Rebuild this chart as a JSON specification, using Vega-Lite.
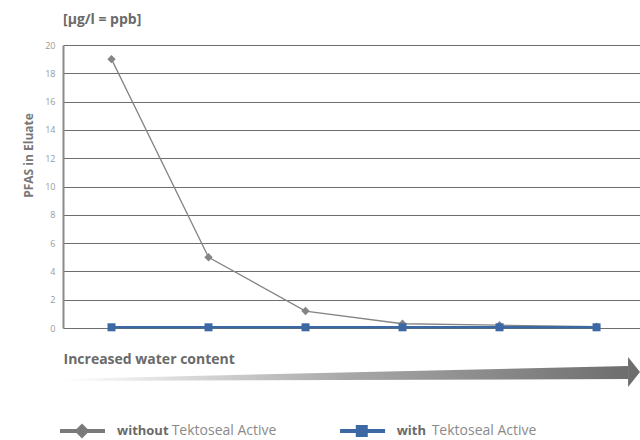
{
  "$schema": "https://vega.github.io/schema/vega-lite/v6.json",
  "width": 577,
  "height": 283,
  "autosize": {"type": "none"},
  "padding": {"left": 63, "top": 45, "right": 0, "bottom": 112},
  "background": "white",
  "config": {"view": {"stroke": null}, "font": "Open Sans", "axisY": {"tickCount": 12, "labelOverlap": false}},
  "title": {"text": "[µg/l = ppb]", "anchor": "start", "frame": "group", "fontSize": 14, "fontWeight": "bold", "color": "#6a6a6a", "baseline": "bottom", "offset": 0},
  "datasets": {
    "pfas": [
      {"step": 1, "value": 19, "series": "without"},
      {"step": 2, "value": 5, "series": "without"},
      {"step": 3, "value": 1.2, "series": "without"},
      {"step": 4, "value": 0.3, "series": "without"},
      {"step": 5, "value": 0.2, "series": "without"},
      {"step": 6, "value": 0.1, "series": "without"},
      {"step": 1, "value": 0.05, "series": "with"},
      {"step": 2, "value": 0.05, "series": "with"},
      {"step": 3, "value": 0.05, "series": "with"},
      {"step": 4, "value": 0.05, "series": "with"},
      {"step": 5, "value": 0.05, "series": "with"},
      {"step": 6, "value": 0.05, "series": "with"}
    ],
    "arrow": [
      {"step": 0.5, "value": -3.6, "value2": -3.75},
      {"step": 6.325, "value": -2.69, "value2": -3.6}
    ]
  },
  "layer": [
    {
      "data": {"name": "pfas"},
      "transform": [{"filter": "datum.series === 'without'"}],
      "mark": {"type": "line", "color": "#858585", "strokeWidth": 1.3},
      "encoding": {
        "x": {"field": "step", "type": "quantitative", "scale": {"domain": [0.5, 6.448], "nice": false, "zero": false},
          "axis": {"labels": false, "ticks": false, "domain": false, "grid": false, "title": "Increased water content", "titleAnchor": "start", "titleAlign": "left", "titleX": 0, "titleY": 31, "titleBaseline": "middle", "titleFontSize": 14, "titleFontWeight": "bold", "titleColor": "#6a6a6a"}},
        "y": {"field": "value", "type": "quantitative", "scale": {"domain": [0, 20], "nice": false},
          "axis": {"values": [0, 2, 4, 6, 8, 10, 12, 14, 16, 18, 20], "tickCount": 12, "labelOverlap": false, "ticks": false, "labelPadding": 8, "labelFontSize": 9, "labelColor": "#9a9a9a", "gridColor": "#6e6e6e", "gridWidth": 1, "domainColor": "#8a8a8a", "domainWidth": 2, "title": "PFAS in Eluate", "titleFontSize": 12, "titleFontWeight": "bold", "titleColor": "#777777", "titleX": -35, "titleY": 110, "titleAngle": -90, "titleBaseline": "middle", "titleAlign": "center"}}
      }
    },
    {
      "data": {"name": "pfas"},
      "transform": [{"filter": "datum.series === 'without'"}],
      "mark": {"type": "point", "shape": "diamond", "filled": true, "opacity": 1, "size": 70, "color": "#858585"},
      "encoding": {
        "x": {"field": "step", "type": "quantitative"},
        "y": {"field": "value", "type": "quantitative"}
      }
    },
    {
      "data": {"name": "pfas"},
      "transform": [{"filter": "datum.series === 'with'"}],
      "mark": {"type": "line", "color": "#3c69a4", "strokeWidth": 2.5},
      "encoding": {
        "x": {"field": "step", "type": "quantitative"},
        "y": {"field": "value", "type": "quantitative"}
      }
    },
    {
      "data": {"name": "pfas"},
      "transform": [{"filter": "datum.series === 'with'"}],
      "mark": {"type": "point", "shape": "square", "filled": true, "opacity": 1, "size": 64, "color": "#3c69a4"},
      "encoding": {
        "x": {"field": "step", "type": "quantitative"},
        "y": {"field": "value", "type": "quantitative"}
      }
    },
    {
      "data": {"name": "arrow"},
      "mark": {"type": "area", "color": {"gradient": "linear", "x1": 0, "x2": 1, "y1": 0, "y2": 0, "stops": [{"offset": 0, "color": "#ffffff"}, {"offset": 0.5, "color": "#a8a8a8"}, {"offset": 1, "color": "#6e6e6e"}]}},
      "encoding": {
        "x": {"field": "step", "type": "quantitative"},
        "y": {"field": "value", "type": "quantitative"},
        "y2": {"field": "value2"}
      }
    },
    {
      "data": {"values": [{}]},
      "layer": [
        {"mark": {"type": "point", "shape": "M-0.4,-1L0.4,0L-0.4,1Z", "filled": true, "opacity": 1, "size": 900, "color": "#6e6e6e"},
         "encoding": {"x": {"datum": 6.387, "type": "quantitative"}, "y": {"datum": -3.11, "type": "quantitative"}}},
        {"mark": {"type": "rule", "color": "#7a7a7a", "strokeWidth": 4},
         "encoding": {"x": {"datum": 0.469, "type": "quantitative"}, "x2": {"datum": 0.933}, "y": {"datum": -7.28, "type": "quantitative"}}},
        {"mark": {"type": "point", "shape": "diamond", "filled": true, "opacity": 1, "size": 225, "color": "#7a7a7a"},
         "encoding": {"x": {"datum": 0.696, "type": "quantitative"}, "y": {"datum": -7.28, "type": "quantitative"}}},
        {"mark": {"type": "text", "text": "without", "align": "left", "baseline": "middle", "fontSize": 13, "fontWeight": "bold", "color": "#6a6a6a"},
         "encoding": {"x": {"datum": 1.057, "type": "quantitative"}, "y": {"datum": -7.28, "type": "quantitative"}}},
        {"mark": {"type": "text", "text": "Tektoseal Active", "align": "left", "baseline": "middle", "fontSize": 14, "color": "#8a8a8a"},
         "encoding": {"x": {"datum": 1.62, "type": "quantitative"}, "y": {"datum": -7.28, "type": "quantitative"}}},
        {"mark": {"type": "rule", "color": "#3c69a4", "strokeWidth": 4},
         "encoding": {"x": {"datum": 3.356, "type": "quantitative"}, "x2": {"datum": 3.82}, "y": {"datum": -7.28, "type": "quantitative"}}},
        {"mark": {"type": "point", "shape": "square", "filled": true, "opacity": 1, "size": 144, "color": "#3c69a4"},
         "encoding": {"x": {"datum": 3.58, "type": "quantitative"}, "y": {"datum": -7.28, "type": "quantitative"}}},
        {"mark": {"type": "text", "text": "with", "align": "left", "baseline": "middle", "fontSize": 13, "fontWeight": "bold", "color": "#6a6a6a"},
         "encoding": {"x": {"datum": 3.94, "type": "quantitative"}, "y": {"datum": -7.28, "type": "quantitative"}}},
        {"mark": {"type": "text", "text": "Tektoseal Active", "align": "left", "baseline": "middle", "fontSize": 14, "color": "#8a8a8a"},
         "encoding": {"x": {"datum": 4.30, "type": "quantitative"}, "y": {"datum": -7.28, "type": "quantitative"}}}
      ]
    }
  ]
}
